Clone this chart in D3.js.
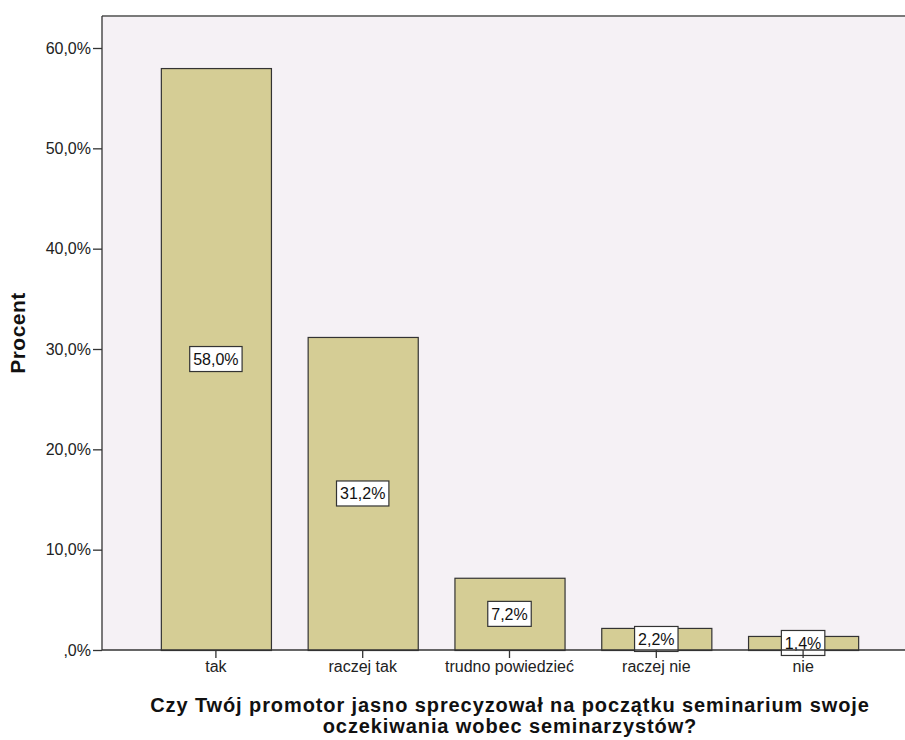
<!DOCTYPE html>
<html>
<head>
<meta charset="utf-8">
<script src="https://cdn.jsdelivr.net/npm/d3@7"></script>
<style>
  body { margin:0; background:#fff; }
  svg { display:block; font-family:"Liberation Sans", Arial, sans-serif; }
</style>
</head>
<body>
<svg id="chart"></svg>
<script>
(function(){
    const categories = ['tak', 'raczej tak', 'trudno powiedzieć', 'raczej nie', 'nie'];
    const percents = [58.0, 31.2, 7.2, 2.2, 1.4];
    const yTicks = [0, 10, 20, 30, 40, 50, 60];
    const yTitle = 'Procent';
    const xTitle = ['Czy Twój promotor jasno sprecyzował na początku seminarium swoje', 'oczekiwania wobec seminarzystów?'];

    const W = 905, H = 740;
    const plot = {left:102, right:910, top:16, bottom:650};
    const svg = d3.select('#chart').attr('width', W).attr('height', H);

    const fmt = v => (v === 0 ? ',0' : v.toFixed(1).replace('.', ',')) + '%';

    const x = d3.scaleBand().domain(categories).range([142.5, 876.5])
        .paddingInner(0.25).paddingOuter(0.125);
    const y = d3.scaleLinear().domain([0, 60]).range([plot.bottom, 48]);

    // plot background
    svg.append('rect')
        .attr('x', plot.left).attr('y', plot.top)
        .attr('width', plot.right - plot.left).attr('height', plot.bottom - plot.top)
        .attr('fill', '#f5f1f5');
    svg.append('line').attr('x1', plot.left).attr('x2', plot.right).attr('y1', plot.top).attr('y2', plot.top)
        .attr('stroke', '#7a7a7a').attr('stroke-width', 2);

    const g = svg.append('g');
    const data = categories.map((c, i) => ({cat:c, val:percents[i]}));

    g.selectAll('rect.bar').data(data).join('rect').attr('class', 'bar')
        .attr('x', d => x(d.cat) + 0.5).attr('width', x.bandwidth())
        .attr('y', d => y(d.val) + 0.5).attr('height', d => y(0) - y(d.val))
        .attr('fill', '#d5cd95').attr('stroke', '#333').attr('stroke-width', 1.2);

    // y axis
    const yAxis = svg.append('g').attr('transform', `translate(${plot.left},0)`)
        .call(d3.axisLeft(y).tickValues(yTicks).tickFormat(fmt).tickSize(9).tickPadding(2));
    yAxis.select('.domain').attr('stroke', '#333').attr('stroke-width', 1.3)
        .attr('d', `M0,${plot.top}V${plot.bottom}`);
    yAxis.selectAll('.tick line').attr('stroke', '#333').attr('stroke-width', 1.3);
    yAxis.selectAll('.tick text').attr('font-size', 16).attr('fill', '#222')
        .attr('font-family', '"Liberation Sans", Arial, sans-serif');

    // x axis
    const xAxis = svg.append('g').attr('transform', `translate(0,${plot.bottom})`)
        .call(d3.axisBottom(x).tickSize(8).tickPadding(3));
    xAxis.select('.domain').attr('stroke', '#333').attr('stroke-width', 1.3)
        .attr('d', `M${plot.left},0H${plot.right}`);
    xAxis.selectAll('.tick line').attr('stroke', '#333').attr('stroke-width', 1.3);
    xAxis.selectAll('.tick text').attr('font-size', 16).attr('fill', '#222')
        .attr('font-family', '"Liberation Sans", Arial, sans-serif');

    // value labels
    const lab = g.selectAll('g.lab').data(data).join('g').attr('class', 'lab')
        .attr('transform', d => `translate(${x(d.cat) + x.bandwidth() / 2},${(y(d.val) + y(0)) / 2})`);
    lab.append('text')
        .attr('text-anchor', 'middle').attr('dy', '0.36em')
        .attr('font-size', 16).attr('fill', '#111')
        .text(d => fmt(d.val));
    lab.each(function(){
        const t = d3.select(this).select('text');
        const b = t.node().getBBox();
        d3.select(this).insert('rect', 'text')
            .attr('x', b.x - 3.5).attr('y', -12.5)
            .attr('width', b.width + 7).attr('height', 25)
            .attr('fill', '#fff').attr('stroke', '#333').attr('stroke-width', 1.2);
    });

    // titles
    svg.append('text')
        .attr('transform', `translate(25,${(plot.top + plot.bottom) / 2}) rotate(-90)`)
        .attr('text-anchor', 'middle')
        .attr('font-size', 21).attr('font-weight', 'bold').attr('fill', '#111')
        .attr('letter-spacing', 0.5)
        .text(yTitle);

    svg.append('text')
        .attr('x', 510).attr('y', 712)
        .attr('text-anchor', 'middle')
        .attr('font-size', 20).attr('font-weight', 'bold').attr('fill', '#111')
        .attr('letter-spacing', 0.9)
        .selectAll('tspan').data(xTitle).join('tspan')
        .attr('x', 510).attr('dy', (d, i) => i ? 21 : 0)
        .text(d => d);
})();
</script>
</body>
</html>
